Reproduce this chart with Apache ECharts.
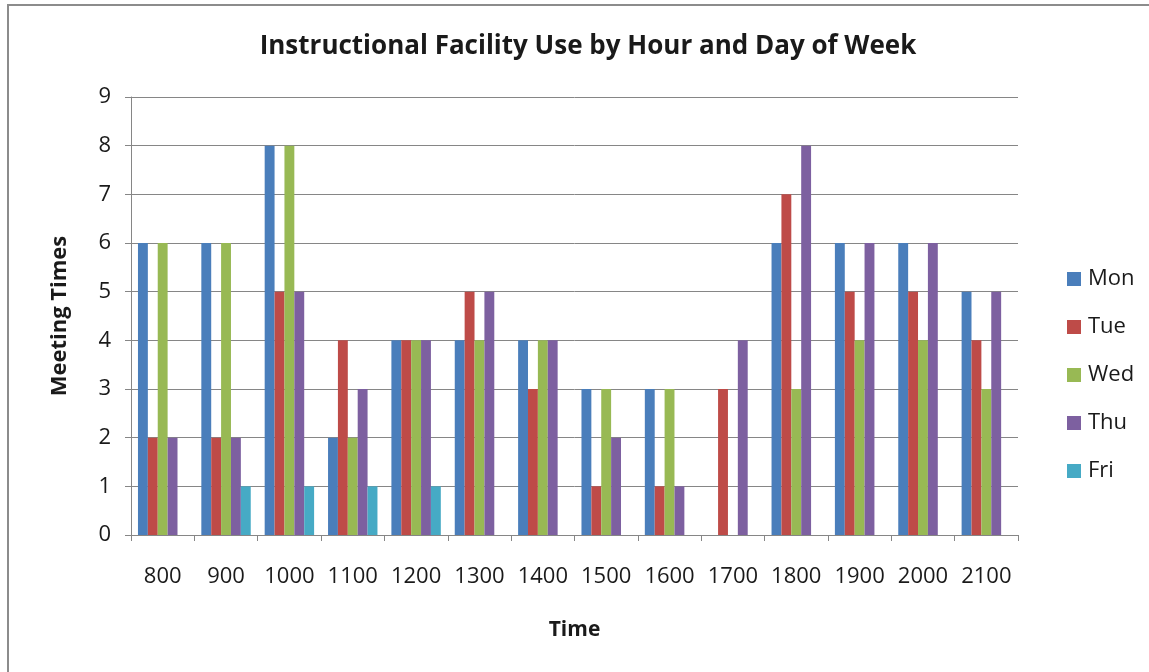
<!DOCTYPE html>
<html>
<head>
<meta charset="utf-8">
<script src="https://cdn.jsdelivr.net/npm/echarts@6/dist/echarts.min.js"></script>
<style>
  html, body { margin: 0; padding: 0; background: #fff; }
  #chart { width: 1149px; height: 672px; }
</style>
</head>
<body>
<div id="chart"></div>
<script>
var hours = ['800', '900', '1000', '1100', '1200', '1300', '1400', '1500', '1600', '1700', '1800', '1900', '2000', '2100'];
var mon = [6, 6, 8, 2, 4, 4, 4, 3, 3, 0, 6, 6, 6, 5];
var tue = [2, 2, 5, 4, 4, 5, 3, 1, 1, 3, 7, 5, 5, 4];
var wed = [6, 6, 8, 2, 4, 4, 4, 3, 3, 0, 3, 4, 4, 3];
var thu = [2, 2, 5, 3, 4, 5, 4, 2, 1, 4, 8, 6, 6, 5];
var fri = [0, 1, 1, 1, 1, 0, 0, 0, 0, 0, 0, 0, 0, 0];

var font = '"Open Sans", Lato, sans-serif';
var axisGray = '#868686';

function bar(name, data, color) {
  return {
    name: name,
    type: 'bar',
    data: data,
    barGap: '0%',
    barCategoryGap: '22%',
    itemStyle: { color: color }
  };
}

var chart = echarts.init(document.getElementById('chart'));
chart.setOption({
  animation: false,
  textStyle: { fontFamily: font },
  graphic: [{
    type: 'rect',
    shape: { x: 8, y: 5, width: 1300, height: 800 },
    style: { fill: 'none', stroke: '#8c8c8c', lineWidth: 2 },
    silent: true
  }],
  title: {
    text: 'Instructional Facility Use by Hour and Day of Week',
    left: 583,
    textAlign: 'center',
    top: 29,
    textStyle: { fontFamily: font, fontSize: 26, fontWeight: 'bold', color: '#1a1a1a' }
  },
  legend: {
    orient: 'vertical',
    left: 1062,
    top: 263,
    itemWidth: 14,
    itemHeight: 14,
    itemGap: 26,
    icon: 'rect',
    textStyle: { fontFamily: font, fontSize: 22, color: '#1a1a1a', padding: [0, 0, 0, 2] },
    data: ['Mon', 'Tue', 'Wed', 'Thu', 'Fri']
  },
  grid: { left: 131, right: 131, top: 97, bottom: 137, containLabel: false },
  xAxis: {
    type: 'category',
    data: hours,
    name: 'Time',
    nameLocation: 'middle',
    nameGap: 85,
    nameTextStyle: { fontFamily: font, fontSize: 21, fontWeight: 'bold', color: '#1a1a1a' },
    axisLine: { lineStyle: { color: axisGray } },
    axisTick: { show: true, length: 6, interval: 0, alignWithLabel: false, lineStyle: { color: axisGray } },
    axisLabel: { interval: 0, hideOverlap: false, fontFamily: font, fontSize: 22, color: '#1a1a1a', margin: 31 }
  },
  yAxis: {
    type: 'value',
    min: 0,
    max: 9,
    interval: 1,
    name: 'Meeting Times',
    nameLocation: 'middle',
    nameGap: 60,
    nameTextStyle: { fontFamily: font, fontSize: 22, fontWeight: 'bold', color: '#1a1a1a' },
    axisLine: { show: true, lineStyle: { color: axisGray } },
    axisTick: { show: true, length: 6, lineStyle: { color: axisGray } },
    splitLine: { lineStyle: { color: axisGray } },
    axisLabel: { fontFamily: font, fontSize: 22, color: '#1a1a1a', margin: 20 }
  },
  series: [
    bar('Mon', mon, '#4a7ebb'),
    bar('Tue', tue, '#be4b48'),
    bar('Wed', wed, '#98b954'),
    bar('Thu', thu, '#7d60a0'),
    bar('Fri', fri, '#46aac5')
  ]
});
</script>
</body>
</html>
